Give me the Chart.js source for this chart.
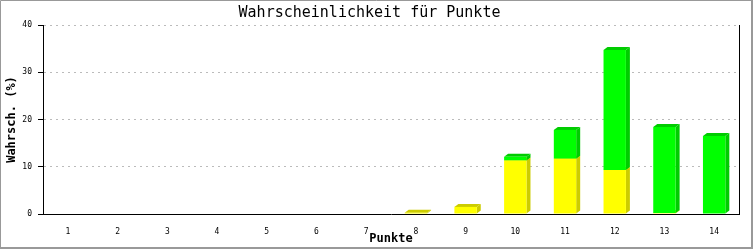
<!DOCTYPE html>
<html>
<head>
<meta charset="utf-8">
<script src="https://cdn.jsdelivr.net/npm/chart.js@4"></script>
<style>
    body { margin: 0; background: #fff; }
    #wrap { width: 753px; height: 250px; position: relative; }
</style>
</head>
<body>
<div id="wrap"><canvas id="punkteChart" width="753" height="250"></canvas></div>
<script>
// Punkte 1..14, stacked probabilities in %
const punkte = ["1", "2", "3", "4", "5", "6", "7", "8", "9", "10", "11", "12", "13", "14"];
const gelb = [0, 0, 0, 0, 0, 0, 0, 0.25, 1.5, 11.3, 11.7, 9.3, 0.2, 0];
const gruen = [0, 0, 0, 0, 0, 0, 0, 0, 0, 0.8, 6.1, 25.4, 18.2, 16.5];
const yTicks = [0, 10, 20, 30, 40];

const monoFont = "'DejaVu Sans Mono', monospace";
const sideColors = ["#cccc00", "#00cc00"];

//////////////////////////////////
// 3D faces (top + right side) behind the bar fronts
//////////////////////////////////
const bar3d = {
    id: "bar3d",
    beforeDatasetsDraw(chart) {
        const ctx = chart.ctx;
        const dx = 4, dy = 3;
        chart.data.datasets.forEach((ds, di) => {
            const meta = chart.getDatasetMeta(di);
            meta.data.forEach((bar, i) => {
                if (!ds.data[i]) return;
                const p = bar.getProps(["x", "y", "base", "width"], true);
                const x0 = p.x - p.width / 2, x1 = p.x + p.width / 2;
                const top = Math.min(p.y, p.base), bot = Math.max(p.y, p.base);
                ctx.save();
                ctx.fillStyle = sideColors[di];
                // side
                ctx.beginPath();
                ctx.moveTo(x1, top);
                ctx.lineTo(x1 + dx, top - dy);
                ctx.lineTo(x1 + dx, bot - dy);
                ctx.lineTo(x1, bot);
                ctx.closePath();
                ctx.fill();
                // top
                ctx.beginPath();
                ctx.moveTo(x0, top);
                ctx.lineTo(x0 + dx, top - dy);
                ctx.lineTo(x1 + dx, top - dy);
                ctx.lineTo(x1, top);
                ctx.closePath();
                ctx.fill();
                ctx.restore();
            });
        });
    }
};

//////////////////////////////////
// Right frame line and outer border
//////////////////////////////////
const frame = {
    id: "frame",
    afterDraw(chart) {
        const ctx = chart.ctx;
        const a = chart.chartArea;
        ctx.save();
        ctx.strokeStyle = "#000";
        ctx.lineWidth = 1;
        ctx.beginPath();
        ctx.moveTo(Math.round(a.right) + 0.5, a.top);
        ctx.lineTo(Math.round(a.right) + 0.5, a.bottom + 0.5);
        ctx.stroke();
        // grey outer border, heavier on right/bottom
        ctx.strokeStyle = "#999";
        ctx.beginPath();
        ctx.moveTo(0.5, 249);
        ctx.lineTo(0.5, 0.5);
        ctx.lineTo(752, 0.5);
        ctx.stroke();
        ctx.lineWidth = 2;
        ctx.beginPath();
        ctx.moveTo(752, 0);
        ctx.lineTo(752, 248);
        ctx.lineTo(0, 248);
        ctx.stroke();
        ctx.restore();
    }
};

const ctxChart = document.getElementById("punkteChart").getContext("2d");
new Chart(ctxChart, {
    type: "bar",
    data: {
        labels: punkte,
        datasets: [
            {
                label: "gelb",
                data: gelb,
                backgroundColor: "#ffff00",
                borderWidth: 0,
                categoryPercentage: 1,
                barPercentage: 0.45
            },
            {
                label: "grün",
                data: gruen,
                backgroundColor: "#00ff00",
                borderWidth: 0,
                categoryPercentage: 1,
                barPercentage: 0.45
            }
        ]
    },
    options: {
        responsive: false,
        animation: false,
        layout: { padding: { left: 0, right: 14, top: 0, bottom: 0 } },
        plugins: {
            legend: { display: false },
            tooltip: { enabled: false },
            title: {
                display: true,
                text: "Wahrscheinlichkeit für Punkte",
                color: "#000",
                font: { family: monoFont, size: 15, weight: "normal", lineHeight: 1.2 },
                padding: { top: 4, bottom: 3 }
            }
        },
        scales: {
            x: {
                stacked: true,
                afterFit: scale => { scale.height = 36; },
                grid: { display: false },
                border: { display: true, color: "#000", width: 1 },
                ticks: {
                    color: "#000",
                    padding: 5,
                    font: { family: monoFont, size: 8 },
                    maxRotation: 0
                },
                title: {
                    display: true,
                    text: "Punkte",
                    color: "#000",
                    font: { family: monoFont, size: 12, weight: "bold", lineHeight: 1.2 },
                    padding: { top: 0, bottom: 4 }
                }
            },
            y: {
                stacked: true,
                min: 0,
                max: 40,
                afterFit: scale => { scale.width = 43; },
                afterBuildTicks: scale => { scale.ticks = yTicks.map(v => ({ value: v })); },
                grid: {
                    color: c => (c.tick && c.tick.value === 0 ? "rgba(0,0,0,0)" : "#bbbbbb"),
                    tickColor: "#000",
                    tickLength: 5,
                    tickBorderDash: [],
                    drawTicks: true
                },
                border: { display: true, color: "#000", width: 1, dash: [2, 4] },
                ticks: {
                    color: "#000",
                    padding: 6,
                    font: { family: monoFont, size: 8 }
                },
                title: {
                    display: true,
                    text: "Wahrsch. (%)",
                    color: "#000",
                    font: { family: monoFont, size: 12, weight: "bold", lineHeight: 1.2 },
                    padding: { top: 5, bottom: 5 }
                }
            }
        }
    },
    plugins: [bar3d, frame]
});
</script>
</body>
</html>
